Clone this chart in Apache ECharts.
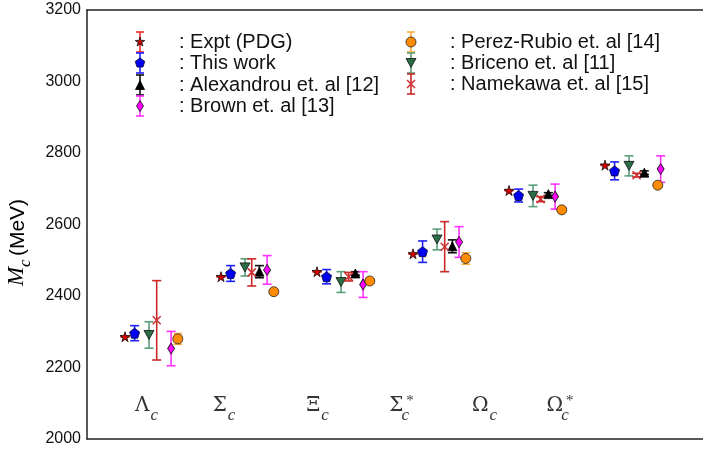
<!DOCTYPE html>
<html><head><meta charset="utf-8">
<script src="https://cdn.jsdelivr.net/npm/echarts@6/dist/echarts.min.js"></script>
<style>html,body{margin:0;padding:0;background:#fff}#c{width:703px;height:450px}</style>
</head><body><div id="c"></div>
<script>
// ---------------- data ----------------
const categories = ['Λc', 'Σc', 'Ξc', 'Σc*', 'Ωc', 'Ωc*'];
const groupX = [1, 2, 3, 4, 5, 6];
const labelX = [1.224, 2.031, 3.005, 3.880, 4.745, 5.531];
const labelY = 2043;
const yTicks = [2000, 2200, 2400, 2600, 2800, 3000, 3200];

const expt = [2286, 2454, 2468, 2518, 2695, 2766];
const exptErr = [1, 1, 1, 1, 1, 1];
const thisWork = [2296, 2463, 2454, 2524, 2681, 2750];
const thisWorkErr = [21, 22, 20, 30, 18, 25];
const alexandrou = [null, 2468, 2463, 2539, 2685, 2745];
const alexandrouErr = [0, 17, 5, 18, 4, 5];
const brown = [2253, 2473, 2432, 2551, 2678, 2755];
const brownErr = [48, 40, 36, 43, 35, 37];
const perezRubio = [2280, 2412, 2442, 2505, 2641, 2710];
const perezRubioErr = [15, 6, 6, 16, 5, 5];
const briceno = [2291, 2480, 2439, 2558, 2680, 2764];
const bricenoErr = [37, 24, 29, 29, 30, 28];
const namekawa = [2332, 2466, 2454, 2538, 2671, 2738];
const namekawaErr = [111, 38, 12, 70, 7, 5];

// ---------------- styles / layout ----------------
const SHAPES = {
  star: [[0,-10],[2.245,-3.09],[9.51,-3.09],[3.633,1.18],[5.878,8.09],[0,3.82],[-5.878,8.09],[-3.633,1.18],[-9.51,-3.09],[-2.245,-3.09]],
  pentagon: [[0,-10],[9.51,-3.09],[5.878,8.09],[-5.878,8.09],[-9.51,-3.09]],
  triUp: [[0,-10],[10,10],[-10,10]],
  triDown: [[-10,-10],[10,-10],[0,10]],
  diamond: [[0,-10],[10,0],[0,10],[-10,0]]
};
function pathOf(sym) {
  if (sym === 'circle') return 'circle';
  if (sym === 'cross') return 'path://M-10,-10L10,10M10,-10L-10,10';
  return 'path://M' + SHAPES[sym].map(p => p.join(',')).join('L') + 'Z';
}
const sets = [
  {label: ': Expt (PDG)', v: expt, e: exptErr, sym: 'star', size: [10, 10], fill: '#d40000', edge: '#111', bar: '#ee2a2a', off: [0,0,0,0,0,0], leg: [140, 42]},
  {label: ': This work', v: thisWork, e: thisWorkErr, sym: 'pentagon', size: [10, 10], fill: '#0000ee', edge: '#000033', bar: '#2020ff', off: [0.10,0.10,0.10,0.10,0.10,0.10], leg: [140, 63]},
  {label: ': Alexandrou et. al [12]', v: alexandrou, e: alexandrouErr, sym: 'triUp', size: [9, 9], fill: '#000', edge: '#000', bar: '#111', off: [0.41,0.40,0.40,0.41,0.41,0.41], leg: [140, 85]},
  {label: ': Brown et. al [13]', v: brown, e: brownErr, sym: 'diamond', size: [7, 11], fill: '#ff00ff', edge: '#111', bar: '#ff30ff', off: [0.48,0.48,0.48,0.48,0.48,0.58], leg: [140, 106]},
  {label: ': Perez-Rubio et. al [14]', v: perezRubio, e: perezRubioErr, sym: 'circle', size: [10, 10], fill: '#ff8c00', edge: '#222', bar: '#ffaa40', off: [0.55,0.55,0.55,0.55,0.55,0.55], leg: [411, 42]},
  {label: ': Briceno et. al [11]', v: briceno, e: bricenoErr, sym: 'triDown', size: [10, 9], fill: '#2a6e46', edge: '#111', bar: '#5a9e77', off: [0.25,0.25,0.25,0.25,0.25,0.25], leg: [411, 63]},
  {label: ': Namekawa et. al [15]', v: namekawa, e: namekawaErr, sym: 'cross', size: [8, 8], fill: 'rgba(0,0,0,0)', edge: '#cc3030', bar: '#cc2828', off: [0.33,0.32,0.33,0.33,0.33,0.33], leg: [411, 84]}
];

const series = [];
sets.forEach(s => {
  const pts = [];
  s.v.forEach((y, i) => { if (y != null) pts.push([groupX[i] + s.off[i], y, s.e[i]]); });
  series.push({
    type: 'custom', z: 2, silent: true,
    data: pts, encode: {x: 0, y: 1},
    renderItem: (params, api) => {
      const x = api.value(0), y = api.value(1), e = api.value(2);
      const t = api.coord([x, y + e]), b = api.coord([x, y - e]);
      const hw = 4.5, st = {stroke: s.bar, lineWidth: 1.6};
      return {type: 'group', children: [
        {type: 'line', shape: {x1: t[0], y1: t[1], x2: b[0], y2: b[1]}, style: st},
        {type: 'line', shape: {x1: t[0] - hw, y1: t[1], x2: t[0] + hw, y2: t[1]}, style: st},
        {type: 'line', shape: {x1: b[0] - hw, y1: b[1], x2: b[0] + hw, y2: b[1]}, style: st}
      ]};
    }
  });
  series.push({
    type: 'scatter', z: 3, silent: true,
    data: pts.map(p => [p[0], p[1]]),
    symbol: pathOf(s.sym), symbolSize: s.size,
    itemStyle: {color: s.fill, borderColor: s.edge, borderWidth: s.sym === 'cross' ? 1.5 : 0.8, opacity: 1}
  });
});

// category labels
const catRich = {
  g: {fontFamily: 'DejaVu Serif', fontSize: 20, color: '#000', padding: [0, 1, 8, 0], verticalAlign: 'bottom'},
  s: {fontFamily: 'Liberation Serif', fontStyle: 'italic', fontSize: 17, color: '#000', verticalAlign: 'bottom'},
  sc: {fontFamily: 'Liberation Serif', fontStyle: 'italic', fontSize: 17, color: '#000', verticalAlign: 'bottom', width: 2, align: 'left'},
  u: {fontFamily: 'Liberation Serif', fontSize: 15, color: '#000', verticalAlign: 'bottom', padding: [0, 0, 15, 0]}
};
function catText(n) {
  return n.endsWith('*') ? '{g|' + n[0] + '}{sc|c}{u|*}' : '{g|' + n[0] + '}{s|c}';
}
series.push({
  type: 'scatter', z: 4, silent: true, symbolSize: 0,
  data: categories.map((n, i) => [labelX[i], labelY]),
  label: {show: true, position: 'top', distance: 0, formatter: p => catText(categories[p.dataIndex]), rich: catRich}
});

// legend as graphics
const graphic = [];
sets.forEach(s => {
  const [x, y] = s.leg;
  const st = {stroke: s.bar, lineWidth: 1.6};
  graphic.push({type: 'line', shape: {x1: x, y1: y - 10, x2: x, y2: y + 10}, style: st, z: 10});
  graphic.push({type: 'line', shape: {x1: x - 4, y1: y - 10, x2: x + 4, y2: y - 10}, style: st, z: 10});
  graphic.push({type: 'line', shape: {x1: x - 4, y1: y + 10, x2: x + 4, y2: y + 10}, style: st, z: 10});
  const w = s.size[0], h = s.size[1];
  if (s.sym === 'circle') {
    graphic.push({type: 'circle', shape: {cx: x, cy: y, r: w / 2}, style: {fill: s.fill, stroke: s.edge, lineWidth: 0.8}, z: 11});
  } else if (s.sym === 'cross') {
    const cs = {stroke: s.edge, lineWidth: 1.5};
    graphic.push({type: 'line', shape: {x1: x - w / 2, y1: y - h / 2, x2: x + w / 2, y2: y + h / 2}, style: cs, z: 11});
    graphic.push({type: 'line', shape: {x1: x + w / 2, y1: y - h / 2, x2: x - w / 2, y2: y + h / 2}, style: cs, z: 11});
  } else {
    const pts = SHAPES[s.sym].map(p => [x + p[0] * w / 20, y + p[1] * h / 20]);
    graphic.push({type: 'polygon', shape: {points: pts}, style: {fill: s.fill, stroke: s.edge, lineWidth: 0.8}, z: 11});
  }
  graphic.push({type: 'text', x: x + 39, y: y, z: 11,
    style: {text: s.label, fontFamily: 'Liberation Sans', fontSize: 20, fill: '#111', verticalAlign: 'middle', align: 'left'}});
});

const chart = echarts.init(document.getElementById('c'), null, {renderer: 'canvas'});
chart.setOption({
  animation: false,
  backgroundColor: '#fff',
  grid: {left: 87, right: 0, top: 10, bottom: 11, containLabel: false, outerBoundsMode: 'none'},
  xAxis: [
    {type: 'value', min: 0.604, max: 7.021, position: 'bottom',
      axisLine: {show: true, onZero: false, lineStyle: {color: '#222', width: 1.5}},
      axisTick: {show: false}, axisLabel: {show: false}, splitLine: {show: false}},
    {type: 'value', min: 0.604, max: 7.021, position: 'top',
      axisLine: {show: true, onZero: false, lineStyle: {color: '#222', width: 1.5}},
      axisTick: {show: false}, axisLabel: {show: false}, splitLine: {show: false}}
  ],
  yAxis: {
    type: 'value', min: yTicks[0], max: yTicks[yTicks.length - 1], interval: 200,
    axisLine: {show: true, lineStyle: {color: '#222', width: 1.5}},
    axisTick: {show: false}, splitLine: {show: false},
    axisLabel: {color: '#111', fontFamily: 'Liberation Sans', fontSize: 16, margin: 6, formatter: v => String(v)},
    name: '{m|M}{c|c} {t|(MeV)}', nameLocation: 'middle', nameGap: 40, nameRotate: 90,
    nameTextStyle: {padding: [0, 36, 0, 0], rich: {
      m: {fontFamily: 'Liberation Serif', fontStyle: 'italic', fontSize: 23, color: '#000', padding: [0, 0, 6, 0], verticalAlign: 'bottom'},
      c: {fontFamily: 'Liberation Serif', fontStyle: 'italic', fontSize: 17, color: '#000', verticalAlign: 'bottom'},
      t: {fontFamily: 'Liberation Sans', fontSize: 21, color: '#000', padding: [0, 0, 6, 0], verticalAlign: 'bottom'}
    }}
  },
  graphic: graphic,
  series: series
});
</script></body></html>
